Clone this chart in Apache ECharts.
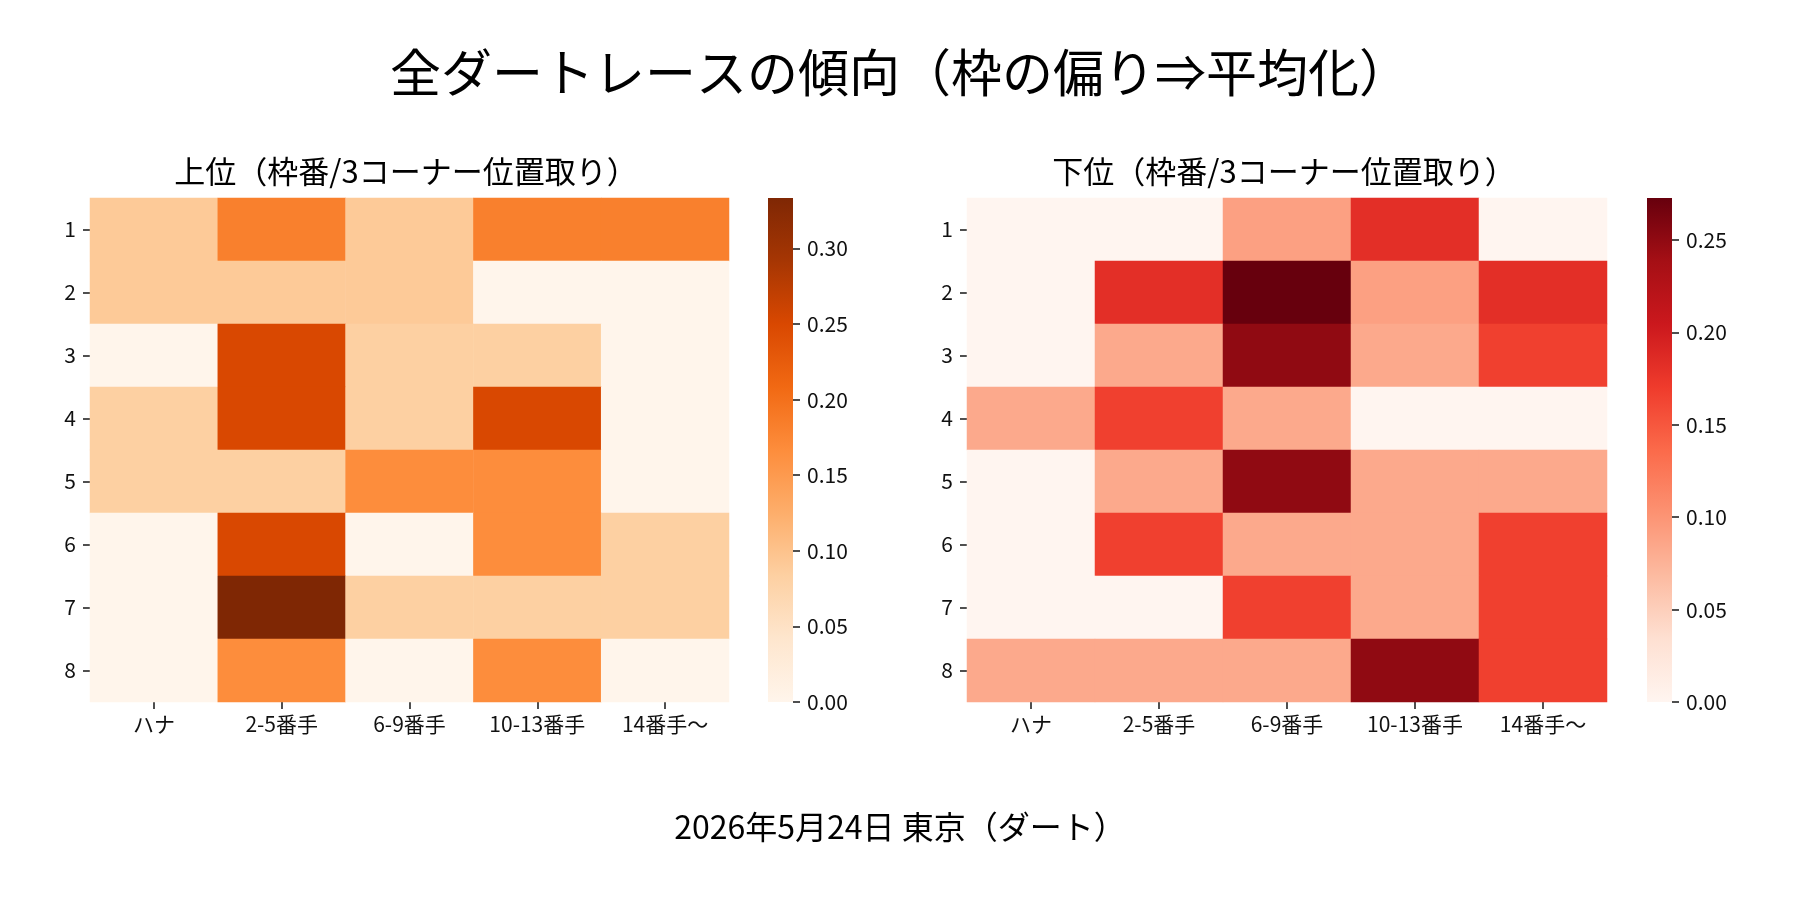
<!DOCTYPE html>
<html>
<head>
<meta charset="utf-8">
<script src="https://cdn.jsdelivr.net/npm/echarts@6/dist/echarts.min.js"></script>
<style>
html, body { margin: 0; padding: 0; background: #fff; }
#chart { width: 1800px; height: 900px; }
</style>
</head>
<body>
<div id="chart"></div>
<script>
// 枠番(行) x 3コーナー位置取り(列)
const frameLabels = ['1', '2', '3', '4', '5', '6', '7', '8'];
const positionLabels = ['ハナ', '2-5番手', '6-9番手', '10-13番手', '14番手〜'];

// 上位の割合
const topValues = [
	[0.0909, 0.1818, 0.0909, 0.1818, 0.1818],
	[0.0909, 0.0909, 0.0909, 0,      0     ],
	[0,      0.25,   0.0833, 0.0833, 0     ],
	[0.0833, 0.25,   0.0833, 0.25,   0     ],
	[0.0833, 0.0833, 0.1667, 0.1667, 0     ],
	[0,      0.25,   0,      0.1667, 0.0833],
	[0,      0.3333, 0.0833, 0.0833, 0.0833],
	[0,      0.1667, 0,      0.1667, 0     ]
];

// 下位の割合
const bottomValues = [
	[0,      0,      0.0909, 0.1818, 0     ],
	[0,      0.1818, 0.2727, 0.0909, 0.1818],
	[0,      0.0833, 0.25,   0.0833, 0.1667],
	[0.0833, 0.1667, 0.0833, 0,      0     ],
	[0,      0.0833, 0.25,   0.0833, 0.0833],
	[0,      0.1667, 0.0833, 0.0833, 0.1667],
	[0,      0,      0.1667, 0.0833, 0.1667],
	[0.0833, 0.0833, 0.0833, 0.25,   0.1667]
];

const topMax    = 0.3333;
const bottomMax = 0.2727;
const topTicks    = [0, 0.05, 0.10, 0.15, 0.20, 0.25, 0.30];
const bottomTicks = [0, 0.05, 0.10, 0.15, 0.20, 0.25];

const orangesColors = ['#fff5eb', '#fee6ce', '#fdd0a2', '#fdae6b', '#fd8d3c', '#f16913', '#d94801', '#a63603', '#7f2704'];
const redsColors    = ['#fff5f0', '#fee0d2', '#fcbba1', '#fc9272', '#fb6a4a', '#ef3b2c', '#cb181d', '#a50f15', '#67000d'];

const FONT = '"Noto Sans CJK JP", "Noto Sans", sans-serif';

//[列, 行, 値] に変換
function toCells(rows) {
	let cells = [];
	rows.forEach((row, r) => {
		row.forEach((v, c) => cells.push([c, r, v]));
	});
	return cells;
}

function gradient(colors) {
	const stops = colors.map((c, i) => ({ offset: i / (colors.length - 1), color: c }));
	return new echarts.graphic.LinearGradient(0, 1, 0, 0, stops);
}

const tickStyle  = { color: '#222', width: 1.6 };
const labelStyle = { fontSize: 21, color: '#111', fontFamily: FONT };

function heatX(gridIndex) {
	return {
		type: 'category', gridIndex: gridIndex, data: positionLabels,
		axisLine: { show: false },
		axisTick: { show: true, alignWithLabel: true, length: 7, lineStyle: tickStyle },
		axisLabel: Object.assign({ margin: 12 }, labelStyle),
		splitLine: { show: false }
	};
}

function heatY(gridIndex) {
	return {
		type: 'category', gridIndex: gridIndex, data: frameLabels, inverse: true,
		axisLine: { show: false },
		axisTick: { show: true, alignWithLabel: true, length: 7, lineStyle: tickStyle },
		axisLabel: Object.assign({ margin: 14 }, labelStyle),
		splitLine: { show: false }
	};
}

function barX(gridIndex) {
	return { type: 'category', gridIndex: gridIndex, data: ['cb'], show: false };
}

function barY(gridIndex, max, ticks) {
	return {
		type: 'value', gridIndex: gridIndex, min: 0, max: max, position: 'right',
		axisLine: { show: false },
		splitLine: { show: false },
		axisTick: { show: true, length: 7, lineStyle: tickStyle, customValues: ticks },
		axisLabel: Object.assign({ margin: 14, customValues: ticks, formatter: (v) => v.toFixed(2) }, labelStyle)
	};
}

const myChart = echarts.init(document.getElementById('chart'));

const option = {
	animation: false,
	backgroundColor: '#fff',
	title: [
		{ text: '全ダートレースの傾向（枠の偏り⇒平均化）', left: 'center', top: 42,
		  textStyle: { fontSize: 51, fontWeight: 'normal', color: '#000', fontFamily: FONT } },
		{ text: '上位（枠番/3コーナー位置取り）', left: 401, textAlign: 'center', top: 151,
		  textStyle: { fontSize: 31, fontWeight: 'normal', color: '#000', fontFamily: FONT } },
		{ text: '下位（枠番/3コーナー位置取り）', left: 1279, textAlign: 'center', top: 151,
		  textStyle: { fontSize: 31, fontWeight: 'normal', color: '#000', fontFamily: FONT } },
		{ text: '2026年5月24日 東京（ダート）', left: 'center', top: 806,
		  textStyle: { fontSize: 32, fontWeight: 'normal', color: '#000', fontFamily: FONT } }
	],
	grid: [
		{ left: 90,   top: 198, width: 639, height: 504 },
		{ left: 967,  top: 198, width: 640, height: 504 },
		{ left: 768,  top: 198, width: 25,  height: 504 },
		{ left: 1647, top: 198, width: 25,  height: 504 }
	],
	xAxis: [heatX(0), heatX(1), barX(2), barX(3)],
	yAxis: [heatY(0), heatY(1), barY(2, topMax, topTicks), barY(3, bottomMax, bottomTicks)],
	visualMap: [
		{ type: 'continuous', show: false, seriesIndex: 0, min: 0, max: topMax,
		  inRange: { color: orangesColors } },
		{ type: 'continuous', show: false, seriesIndex: 1, min: 0, max: bottomMax,
		  inRange: { color: redsColors } }
	],
	series: [
		{ name: '上位', type: 'heatmap', xAxisIndex: 0, yAxisIndex: 0, data: toCells(topValues),
		  itemStyle: { borderWidth: 0 }, emphasis: { disabled: true } },
		{ name: '下位', type: 'heatmap', xAxisIndex: 1, yAxisIndex: 1, data: toCells(bottomValues),
		  itemStyle: { borderWidth: 0 }, emphasis: { disabled: true } },
		{ type: 'bar', xAxisIndex: 2, yAxisIndex: 2, data: [topMax], barWidth: '100%', silent: true,
		  itemStyle: { color: gradient(orangesColors) } },
		{ type: 'bar', xAxisIndex: 3, yAxisIndex: 3, data: [bottomMax], barWidth: '100%', silent: true,
		  itemStyle: { color: gradient(redsColors) } }
	]
};

myChart.setOption(option);
</script>
</body>
</html>
